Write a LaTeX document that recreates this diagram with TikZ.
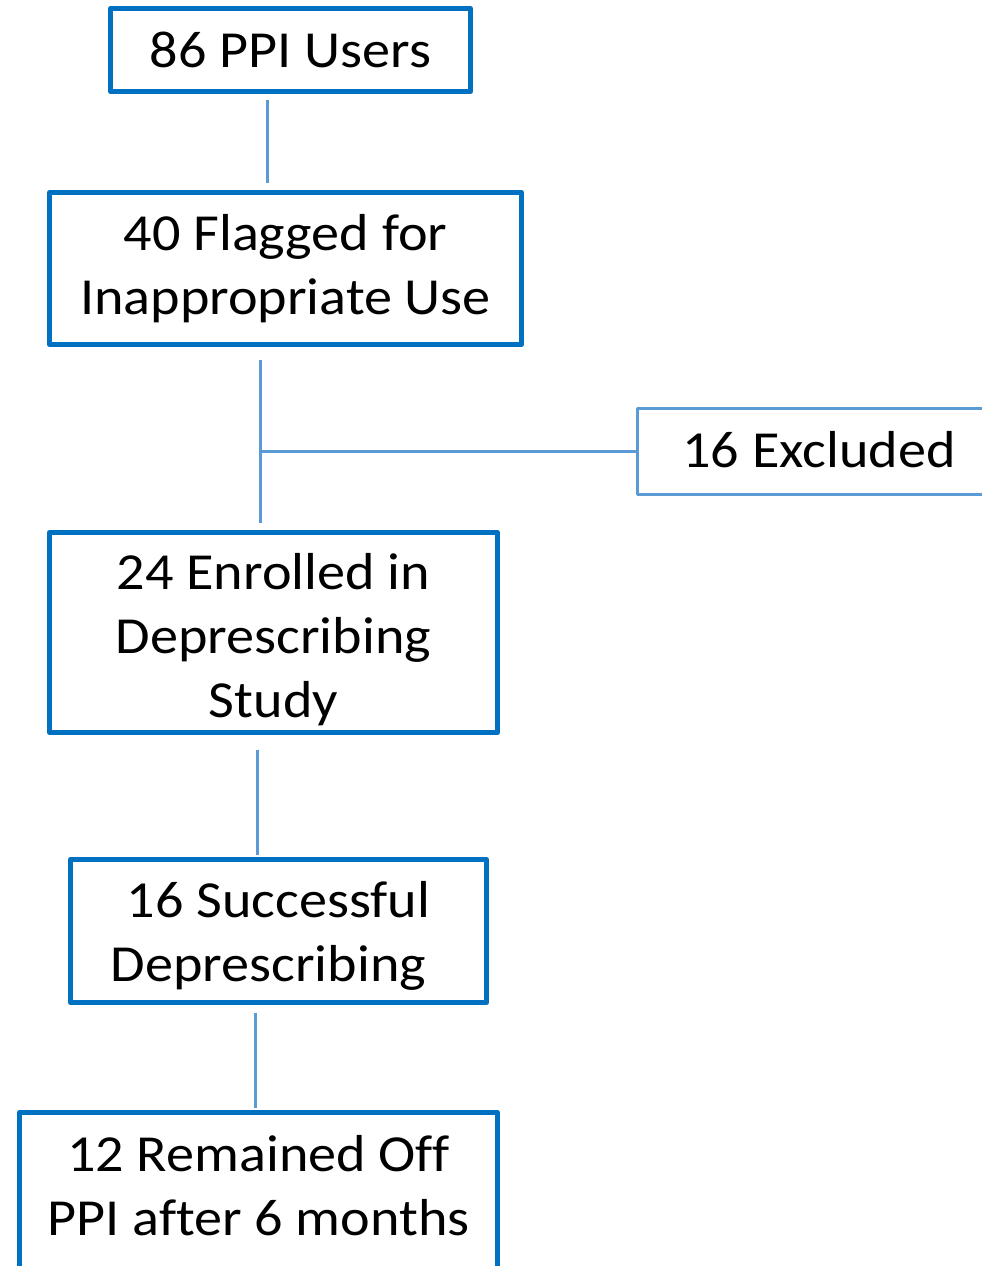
\documentclass[tikz,border=0pt]{standalone}
\usepackage{fontspec}
\setmainfont{Carlito}[FakeStretch=1.08, Ligatures=NoCommon]
\definecolor{boxblue}{HTML}{0070C0}
\definecolor{lineblue}{HTML}{5B9BD5}
\begin{document}
\begin{tikzpicture}[x=1pt,y=-1pt,
  mainbox/.style={draw=boxblue, line width=5pt, fill=white, inner sep=0pt, line join=round},
  sidebox/.style={draw=lineblue, line width=3pt, fill=white, inner sep=0pt, line join=round},
  boxtext/.style={inner sep=0pt, align=center, font=\fontsize{52}{64}\selectfont},
  link/.style={draw=lineblue, line width=3pt}]
  \useasboundingbox (0,0) rectangle (982,1266);
  \clip (0,0) rectangle (982,1266);
  \fill[white] (0,0) rectangle (982,1266);

  % boxes of the flow
  \node[mainbox, minimum width=360pt, minimum height=83pt] (b1) at (290.5,50) {};
  \node[mainbox, minimum width=472pt, minimum height=152pt] (b2) at (285.5,268.5) {};
  \node[sidebox, minimum width=363pt, minimum height=86pt] (ex) at (819,451.5) {};
  \node[mainbox, minimum width=448pt, minimum height=200pt] (b3) at (273.5,632.5) {};
  \node[mainbox, minimum width=416pt, minimum height=143pt] (b4) at (278.5,931) {};
  \node[mainbox, minimum width=478pt, minimum height=160pt] (b5) at (258.5,1192.5) {};

  % their texts
  \node[boxtext] (t1) at (b1.center) {86 PPI Users};
  \node[boxtext] (t2) at (b2.center) {40 Flagged for\\Inappropriate Use};
  \node[boxtext] (tx) at ([yshift=2pt]ex.center) {16 Excluded};
  \node[boxtext] (t3) at ([yshift=-7pt]b3.center) {24 Enrolled in\\Deprescribing\\Study};
  \node[boxtext] (t4) at ([yshift=-5pt]b4.center) {16 Successful\\Deprescribing\hspace*{20pt}};
  \node[boxtext] (t5) at ([yshift=7pt]b5.center) {12 Remained Off\\PPI after 6 months};

  % connectors
  \draw[link] ([xshift=-23.5pt,yshift=-5.5pt]b1.south) -- ([xshift=-18.5pt,yshift=7.5pt]b2.north);
  \coordinate (j) at ([xshift=-25.5pt]b2.south |- ex.west);
  \draw[link] ([xshift=-25.5pt,yshift=-12.5pt]b2.south) -- ([xshift=-13.5pt,yshift=7.5pt]b3.north);
  \draw[link] (j) -- (ex.west);
  \draw[link] ([xshift=-16.5pt,yshift=-14.5pt]b3.south) -- ([xshift=-21.5pt,yshift=2.5pt]b4.north);
  \draw[link] ([xshift=-23.5pt,yshift=-7.5pt]b4.south) -- ([xshift=-3.5pt,yshift=2.5pt]b5.north);
\end{tikzpicture}
\end{document}
